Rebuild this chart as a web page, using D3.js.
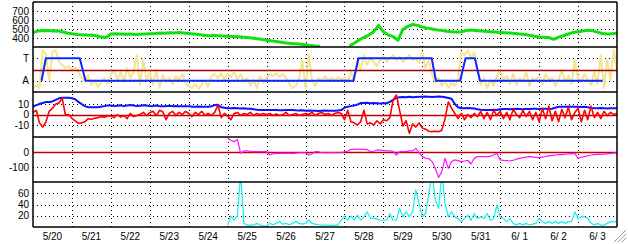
<!DOCTYPE html>
<html>
<head>
<meta charset="utf-8">
<script src="https://cdn.jsdelivr.net/npm/d3@7"></script>
<style>
    body { margin: 0; background: #fff; }
    svg { display: block; font-family: "Liberation Sans", Arial, sans-serif; }
</style>
</head>
<body>
<div id="visual"></div>
<script>
/* solar wind summary, 5/20 - 6/3, five stacked panels */

var dayLabels = ["5/20", "5/21", "5/22", "5/23", "5/24", "5/25", "5/26", "5/27",
    "5/28", "5/29", "5/30", "5/31", "6/ 1", "6/ 2", "6/ 3"];

// speed, every 3 hours from 5/20 00:00
var speed = [
    459, 478, 480, 482, 478, 480, 470, 455,
    448, 440, 435, 433, 430, 425, 410, 405,
    445, 448, 445, 442, 445, 440, 442, 445,
    448, 450, 455, 452, 458, 455, 460, 455,
    450, 445, 440, 430, 425, 428, 425, 422,
    420, 418, 415, 410, 405, 400, 392, 385,
    375, 368, 360, 352, 345, 340, 335, 330,
    325, 318, 312, 308, null, null, null, null,
    null, 311, 341, 378, 408, 433, 470, 540,
    470, 433, 415, 375, 495, 530, 550, 540,
    522, 510, 500, 490, 485, 475, 470, 467,
    470, 482, 489, 484, 478, 475, 470, 466,
    462, 458, 455, 450, 445, 440, 430, 420,
    412, 408, 405, 385, 410, 425, 445, 462,
    470, 478, 485, 480, 465, 450, 445, 448, 452];

// field direction angle (deg), every 2 hours
var phi = [
    32, 56, 32, 336, 296, 90, 320, 336, 240, 216, 192, 208,
    176, 200, 160, 112, 80, 136, 56, 96, 40, 80, 112, 64,
    136, 176, 96, 160, 80, 192, 112, 160, 296, 56, 256, 96,
    160, 56, 176, 32, 136, 80, 112, 64, 128, 96, 144, 72,
    48, 32, 64, 24, 56, 96, 40, 128, 144, 112, 152, 96,
    144, 120, 160, 104, 144, 80, 112, 48, 96, 32, 128, 72,
    112, 144, 128, 152, 120, 144, 112, 64, 32, 48, 112, 256,
    32, 296, 96, 48, 112, 80, 128, 96, 112, 88, 120, 96,
    112, 80, 160, 96, 240, 176, 296, 216, 272, 240, 208, 256,
    288, 240, 272, 296, 256, 280, 240, 264, 296, 256, 272, 232,
    320, 192, 256, 136, 80, 112, 48, 96, 32, 72, 48, 96,
    320, 296, 336, 272, 320, 176, 56, 112, 32, 96, 48, 128,
    176, 96, 128, 64, 144, 56, 112, 80, 160, 48, 112, 96,
    128, 64, 144, 96, 112, 48, 96, 176, 80, 128, 64, 256,
    112, 80, 144, 96, 56, 160, 64, 296, 32, 256, 96, 336, 176];

// sector polarity: A = 90, T = 270
var sectorDay = [0.22, 0.33, 1.20, 1.35, 8.23, 8.36, 10.24, 10.35, 10.97, 11.11, 11.35, 11.48, 14.63];
var sectorVal = [90, 270, 270, 90, 90, 270, 270, 90, 90, 270, 270, 90, 90];

// field magnitude and north-south component (nT), every 2 hours
var bt = [
    7.4, 9, 10, 11, 12, 12, 12.5, 14, 15.5, 16, 16, 16,
    15.5, 14.5, 12, 10, 8, 7, 7, 7, 7, 7.5, 8, 8.5,
    8.5, 8, 8.4, 8.8, 8, 8.5, 9, 8.5, 8, 8.4, 8.8, 8.5,
    8, 8.2, 8.5, 8, 7.8, 8, 8.3, 8, 8.2, 8, 7.8, 8,
    8, 7.5, 7.5, 7.6, 7.4, 7.5, 7.5, 7.8, 9, 9.2, 7, 6.5,
    6, 6, 6.2, 6, 5.8, 6, 5.5, 5.5, 5, 4.5, 4.4, 4.3,
    4.3, 4.2, 4.4, 4.3, 4, 4, 4.2, 4.3, 4.4, 4, 3.8, 4,
    3.6, 3.8, 3.5, 3.6, 3.4, 3.6, 3.8, 3.6, 3.5, 3.6, 3.8, 4.2,
    6.5, 7.5, 8, 8.5, 9.5, 11, 11, 11.2, 10.8, 11, 10.8, 10.5,
    10.7, 10.8, 12, 14, 16, 16.4, 16.8, 16.5, 17, 16.4, 16.8, 17,
    17, 17.2, 17, 16.8, 17, 17.2, 17, 16.5, 15.8, 15, 10, 7,
    6, 6, 6.2, 6, 5.8, 5, 4.5, 4.3, 4.4, 4.3, 4.5, 4.4,
    5, 5.2, 5.3, 5, 5.2, 5.4, 5.2, 5, 5.3, 5.2, 5.5, 5.4,
    5.3, 5.4, 5.5, 5.3, 5.5, 6.5, 7.4, 7.5, 7.4, 7.6, 7.3, 7.4,
    7.4, 7.2, 7.5, 7, 6.2, 6, 6, 6.2, 6, 5.8, 6, 6, 6];

var bz = [
    2, 4, -8, -12, -7, 3, 6, 10, 11, 15.5, -0.5, 0,
    -3.6, -6, -8.4, -8, -7, -4, -4.5, -3.6, -3, -2, -2.5, -1.5,
    -1.5, -3, 0, -2.5, -1, -4, 1, -2, -1, 0, 2, -1,
    1.7, 3, -1, 4, 2.7, -5, 1, 3, -1, 2, 0, 3,
    1, -2, 2, 0, 3, -1, 1, -1, 2, 9, -3, 1,
    -1.5, -5, 1, 2, -1, 1, 0, 2, -1, 1, 0, 1,
    0, 1, -1, 0.5, -1, 0, 2, -1, 0, 1, -1, 0,
    1, 0, 2, -1, 1, 2, 0, 1, -1, 1, 2, 1,
    -5, 4, -7, -8, -10, -7, 4, -9, -8, -10, -6, -9,
    -5, -6, -3, 14, 18.6, 4, -11, -6, -18, -9, -12, -8,
    -13, -14, -16, -16.4, -16, -16.4, -15, -4, 12, 6, 1, -4,
    1, -5, 0, -3, 1, -2, 3, -4, 2, -5, 4, -1,
    3, -4, 2, -5, 5, 0, -3, 4, -2, 3, -5, 2,
    -7, 6, -4, 8, -6, 3, -7, 5, -3, 7, -5, 2,
    6, -7, 4, -5, 8, -3, 2, -4, 3, -1, 2, 0, 1];

// index panel (nT), every 2 hours from 5/25 00:00
var dst = [
    91, 78, 69, 84, -9, 7, 7, 5, 2, 2, 3, 2,
    2, -20, -12, -9, -9, -8, -9, -8, -9, -7, -5, -5,
    -5, -20, -12, 2, 2, -5, -5, -5, -4, -5, -5, -5,
    2, 5, 18, 18, 20, 18, 17, 16, 2, 5, 13, 13,
    10, 7, 7, 5, -20, 2, 2, 2, 7, 7, 24, -5,
    -31, -42, -45, -64, -110, -169, -131, -42, -109, -64, -53, -58,
    -64, -60, -55, -80, -42, -31, -31, -30, -32, -28, -20, -9,
    -53, -56, -58, -60, -55, -48, -42, -38, -34, -31, -33, -36,
    -38, -34, -30, -26, -22, -20, -18, -17, -15, -13, -11, -9,
    -42, -35, -31, -25, -20, -18, -16, -16, -14, -13, -10, -7, -5];

// particle flux, every 2 hours from 5/25 00:00
var flux = [
    3.5, 19.5, 12, 19.5, 95, 6.5, 3.5, 3.5, 3.5, 6.5, 3.5, 1.8,
    1.8, 6.5, 4, 6.5, 9.5, 5, 6.5, 4, 6.5, 9.5, 6.5, 5,
    6.5, 12.4, 6.5, 5, 4, 3.5, 3.5, 3.5, 3, 3.5, 3.5, 12.4,
    19.5, 12, 19.5, 12.4, 21, 12.4, 18, 27, 15.4, 15.4, 14, 12,
    12, 12, 24, 12, 12, 33, 18, 27, 18, 27, 66, 42,
    18, 24, 60, 95, 48, 33, 95, 42, 18, 27, 18, 15,
    9.5, 15, 21, 12, 24, 15, 18, 15, 24, 12, 15, 39,
    18, 15, 9.5, 15, 6.5, 3.5, 6.5, 3.5, 6.5, 3.5, 5, 6.5,
    15, 9.5, 6.5, 9.5, 6.5, 9.5, 6.5, 9.5, 6.5, 9.5, 9.5, 27,
    15, 18, 18, 15, 6.5, 3.5, 6.5, 3.5, 3.5, 6.5, 9.5, 9.5, 9.5];

var panelDomains = [[300, 800], [0, 360], [-21.5, 21.5], [-200, 100], [0, 80]];
var panelTicks = [[400, 500, 600, 700], [90, 270], [-10, 0, 10], [-100, 0], [20, 40, 60]];
var panelTickText = [["400", "500", "600", "700"], ["A", "T"], ["-10", "0", "10"], ["-100", "0"], ["20", "40", "60"]];
var panelGrid = [[400, 500, 600, 700], [90, 270], [-10, 10], [-100], [20, 40, 60]];

function render() {

    var width = 628, height = 244;
    var left = 33, right = 617, top = 2, panelH = 45;
    var bottom = top + panelH * 5;

    var svg = d3.select("#visual").append("svg")
        .attr("width", width)
        .attr("height", height);

    var x = d3.scaleLinear().domain([0, 15]).range([left, right]);

    var y = panelDomains.map(function (dom, i) {
        return d3.scaleLinear().domain(dom).range([top + panelH * (i + 1), top + panelH * i]);
    });

    var defs = svg.append("defs");
    y.forEach(function (s, i) {
        defs.append("clipPath").attr("id", "clip" + i)
            .append("rect")
            .attr("x", left).attr("y", top + panelH * i)
            .attr("width", right - left).attr("height", panelH);
    });

    /* dotted grid */
    var grid = svg.append("g")
        .attr("stroke", "#000")
        .attr("stroke-width", 1)
        .attr("stroke-dasharray", "1,3");

    grid.selectAll(".vgrid")
        .data(d3.range(1, 15))
        .enter().append("line")
        .attr("x1", function (d) { return Math.round(x(d)) + 0.5; })
        .attr("x2", function (d) { return Math.round(x(d)) + 0.5; })
        .attr("y1", top)
        .attr("y2", bottom);

    panelGrid.forEach(function (vals, i) {
        grid.selectAll(".hgrid" + i)
            .data(vals)
            .enter().append("line")
            .attr("x1", left)
            .attr("x2", right)
            .attr("y1", function (d) { return Math.round(y[i](d)) + 0.5; })
            .attr("y2", function (d) { return Math.round(y[i](d)) + 0.5; });
    });

    function series(vals, start, step) {
        return vals.map(function (v, i) { return [start + i * step, v]; });
    }

    function drawLine(panel, data, color, w) {
        var line = d3.line()
            .defined(function (d) { return d[1] != null; })
            .x(function (d) { return x(d[0]); })
            .y(function (d) { return y[panel](d[1]); });
        svg.append("path")
            .datum(data)
            .attr("clip-path", "url(#clip" + panel + ")")
            .attr("fill", "none")
            .attr("stroke", color)
            .attr("stroke-width", w)
            .attr("stroke-linejoin", "round")
            .attr("d", line);
    }

    function zeroLine(panel, v, color) {
        svg.append("line")
            .attr("x1", left).attr("x2", right)
            .attr("y1", Math.round(y[panel](v)) + 0.5)
            .attr("y2", Math.round(y[panel](v)) + 0.5)
            .attr("stroke", color)
            .attr("stroke-width", 1.5);
    }

    // panel 1: speed
    drawLine(0, series(speed, 0, 1 / 8), "#10e010", 3);

    // panel 2: angle + sector
    drawLine(1, series(phi, 0, 1 / 12), "#f6e48e", 2);
    zeroLine(1, 180, "#a00000");
    drawLine(1, sectorDay.map(function (d, i) { return [d, sectorVal[i]]; }), "#0a28ff", 2);

    // panel 3: field
    zeroLine(2, 0, "#c00000");
    drawLine(2, series(bt, 0, 1 / 12), "#0a14ff", 2);
    drawLine(2, series(bz, 0, 1 / 12), "#ff0000", 1.6);

    // panel 4
    zeroLine(3, 0, "#c00000");
    drawLine(3, series(dst, 5, 1 / 12), "#ff10ff", 1.2);

    // panel 5
    drawLine(4, series(flux, 5, 1 / 12), "#10f0f0", 1.2);

    /* frame and panel separators */
    var frame = svg.append("g").attr("stroke", "#000").attr("stroke-width", 1.5);
    frame.selectAll(".sep")
        .data(d3.range(0, 6))
        .enter().append("line")
        .attr("x1", left)
        .attr("x2", right)
        .attr("y1", function (d) { return top + panelH * d; })
        .attr("y2", function (d) { return top + panelH * d; });
    frame.append("line").attr("x1", left).attr("x2", left).attr("y1", top).attr("y2", bottom);
    frame.append("line").attr("x1", right).attr("x2", right).attr("y1", top).attr("y2", bottom);

    /* tick labels */
    panelTicks.forEach(function (vals, i) {
        svg.selectAll(".ylab" + i)
            .data(vals)
            .enter().append("text")
            .attr("x", 29)
            .attr("y", function (d) { return y[i](d); })
            .attr("dy", "0.36em")
            .attr("text-anchor", "end")
            .attr("font-size", "10px")
            .text(function (d, j) { return panelTickText[i][j]; });
    });

    svg.selectAll(".xlab")
        .data(dayLabels)
        .enter().append("text")
        .attr("x", function (d, i) { return x(i + 0.5); })
        .attr("y", 240)
        .attr("text-anchor", "middle")
        .attr("font-size", "10px")
        .text(function (d) { return d; });

    /* window grip */
    var grip = svg.append("g").attr("stroke", "#999").attr("stroke-width", 1);
    [4, 8, 12].forEach(function (k) {
        grip.append("line")
            .attr("x1", 626 - k).attr("y1", 242)
            .attr("x2", 626).attr("y2", 242 - k);
    });
}

render();
</script>
</body>
</html>
